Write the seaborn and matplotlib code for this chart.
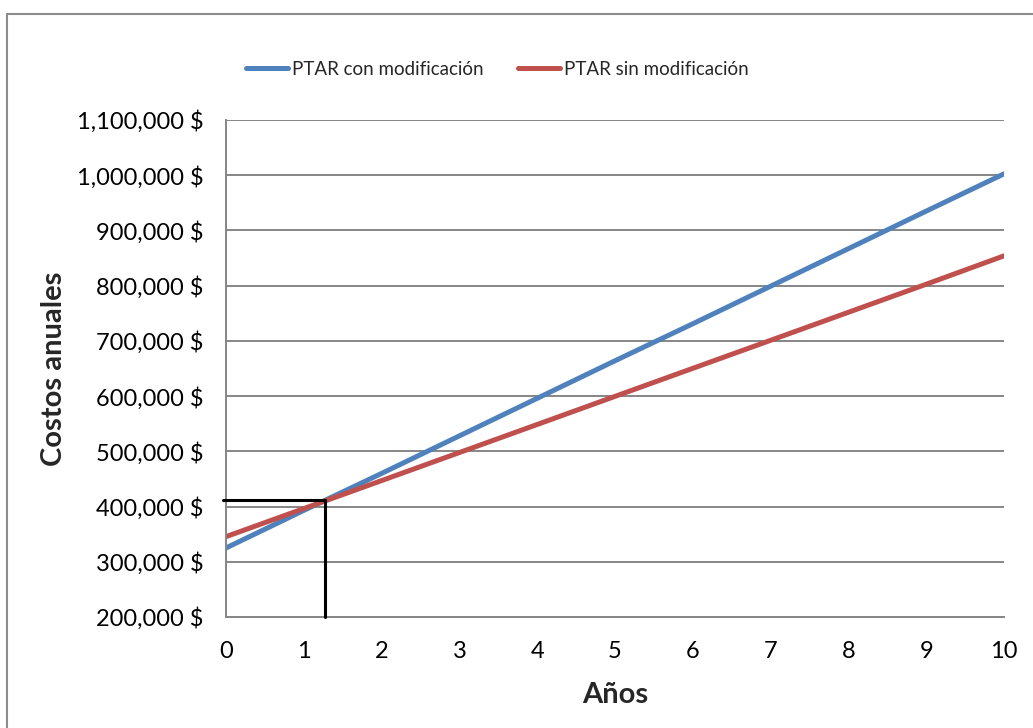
import matplotlib
matplotlib.use("Agg")
import matplotlib.pyplot as plt
import matplotlib.patches as mpatches
from matplotlib.ticker import FuncFormatter
import seaborn as sns
import pandas as pd

# Datos
anios = [0, 1, 2, 3, 4, 5, 6, 7, 8, 9, 10]
costos_con_mod = [325000, 393000, 460000, 528000, 596000, 664000,
                  731000, 799000, 867000, 935000, 1002500]
costos_sin_mod = [345500, 396300, 447000, 497800, 548600, 599500,
                  650300, 701000, 751800, 802600, 854000]
series = ["PTAR con modificación", "PTAR sin modificación"]
colores = ["#4F81BD", "#C0504D"]

# Punto de equilibrio entre ambas alternativas
cruce_anio = 1.27
cruce_costo = 411000

y_ticks = [200000, 300000, 400000, 500000, 600000, 700000,
           800000, 900000, 1000000, 1100000]

df = pd.DataFrame({
    "Años": anios * 2,
    "Costo": costos_con_mod + costos_sin_mod,
    "Serie": [series[0]] * len(anios) + [series[1]] * len(anios),
})

sns.set_theme(style="white")
plt.rcParams["font.family"] = ["Lato", "DejaVu Sans"]

fig = plt.figure(figsize=(10.33, 7.28), dpi=100)
ax = fig.add_axes([226 / 1033, 1 - 617 / 728, (1004 - 226) / 1033, (617 - 120) / 728])

sns.lineplot(data=df, x="Años", y="Costo", hue="Serie", hue_order=series,
             palette=colores, linewidth=3.6, ax=ax, legend=True,
             solid_capstyle="round")

# Líneas guía del punto de cruce
ax.plot([-0.04, cruce_anio], [cruce_costo, cruce_costo], color="black",
        linewidth=2.2, zorder=5, clip_on=False)
ax.plot([cruce_anio, cruce_anio], [cruce_costo, 200000], color="black",
        linewidth=2.2, zorder=5, clip_on=False)

ax.set_xlim(0, 10)
ax.set_ylim(200000, 1100000)
ax.set_xticks(anios)
ax.set_yticks(y_ticks)
ax.yaxis.set_major_formatter(FuncFormatter(lambda v, p: f"{int(v):,} $"))

ax.grid(axis="y", color="#868686", linewidth=1.4)
ax.set_axisbelow(True)
for s in ["top", "right"]:
    ax.spines[s].set_visible(False)
for s in ["left", "bottom"]:
    ax.spines[s].set_color("#868686")
    ax.spines[s].set_linewidth(1.4)

ax.tick_params(axis="both", length=0, labelsize=17, colors="black")
ax.tick_params(axis="y", pad=16)
ax.tick_params(axis="x", pad=17)

ax.set_xlabel("Años", fontsize=21, fontweight="bold", labelpad=15)
ax.set_ylabel("Costos anuales", fontsize=21, fontweight="bold", labelpad=7)

handles, labels = ax.get_legend_handles_labels()
ax.legend(handles, labels, loc="center", bbox_to_anchor=(0.349, 1.102),
          ncol=2, frameon=False, fontsize=13.5, handlelength=2.24,
          handletextpad=0.2, columnspacing=1.85)

# Marco exterior del gráfico
fig.patches.append(mpatches.Rectangle((7 / 1033, -0.1), 1.2, 1 - 14 / 728 + 0.1,
                                      transform=fig.transFigure, fill=False,
                                      edgecolor="#8c8c8c", linewidth=1.5))

fig.savefig("out.png", dpi=100)
